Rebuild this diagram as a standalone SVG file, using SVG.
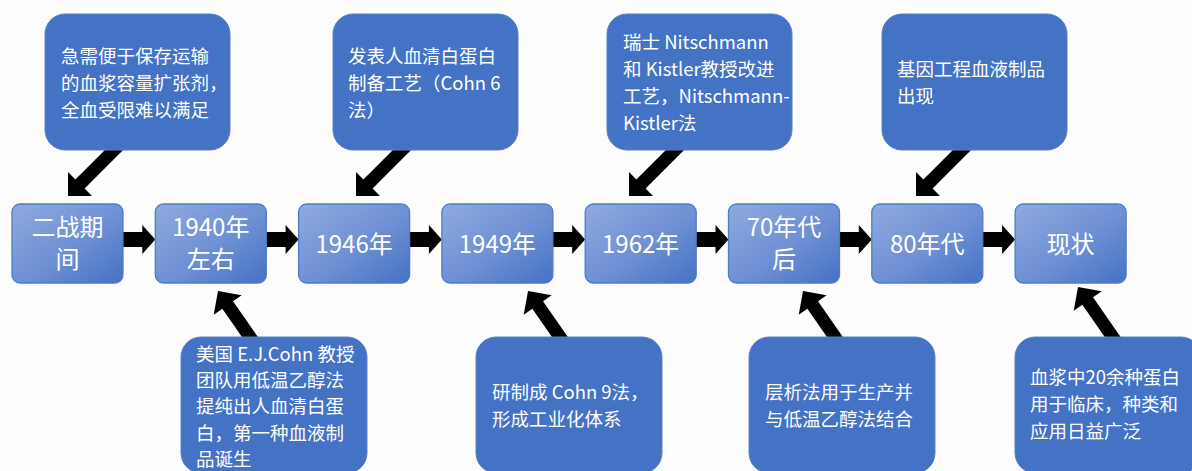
<svg xmlns="http://www.w3.org/2000/svg" xmlns:xlink="http://www.w3.org/1999/xlink" width="1192" height="471" viewBox="0 0 1192 471">
<style>
  .bg { fill: #fdfdfd; }
  .call { fill: #4472C4; stroke: #5b80c8; stroke-width: 1; }
  .step { fill: url(#stepGrad); stroke: #4f7bcb; stroke-width: 1.3; }
  .ct { font-family: "Noto Sans CJK SC", "Noto Sans", sans-serif; font-size: 18.5px; fill: #ffffff; }
  .st { font-family: "Noto Sans CJK SC", "Noto Sans", sans-serif; font-size: 24px; fill: #ffffff; text-anchor: middle; }
  .arr { fill: #000000; }
</style>
<defs>
  <linearGradient id="stepGrad" x1="0" y1="0" x2="1" y2="1">
    <stop offset="0" stop-color="#8FAADF"/>
    <stop offset="0.55" stop-color="#6E8FD4"/>
    <stop offset="1" stop-color="#4472C4"/>
  </linearGradient>
  <path id="arrH" d="M-36,-7.5 L-13,-7.5 L-13,-14.5 L0,0 L-13,14.5 L-13,7.5 L-36,7.5 Z"/>
  <path id="arrDL" d="M51.4,-60.6 L7.4,-16.6 L0,-24 L0,0 L24,0 L16.6,-7.4 L60.6,-51.4 Z"/>
  <path id="arrUL" d="M42.97,50.5 L15.03,10.26 L23.66,4.28 L0,0 L-4.28,23.66 L4.35,17.68 L32.3,57.9 Z"/>
</defs>
<rect class="bg" x="0" y="0" width="1192" height="471"/>

<g id="connectors" class="arr">
  <use xlink:href="#arrH" x="155.3" y="239.5"/>
  <use xlink:href="#arrH" x="298.6" y="239.5"/>
  <use xlink:href="#arrH" x="441.9" y="239.5"/>
  <use xlink:href="#arrH" x="585.2" y="239.5"/>
  <use xlink:href="#arrH" x="728.5" y="239.5"/>
  <use xlink:href="#arrH" x="871.8" y="239.5"/>
  <use xlink:href="#arrH" x="1015.1" y="239.5"/>
  <use xlink:href="#arrDL" x="68" y="196"/>
  <use xlink:href="#arrDL" x="356" y="196"/>
  <use xlink:href="#arrDL" x="629" y="196"/>
  <use xlink:href="#arrDL" x="916" y="196"/>
  <use xlink:href="#arrUL" x="218" y="291"/>
  <use xlink:href="#arrUL" x="528" y="291"/>
  <use xlink:href="#arrUL" x="803" y="291"/>
  <use xlink:href="#arrUL" x="1078" y="287"/>
</g>

<g id="top-1">
  <rect class="call" x="45" y="14" width="185" height="136" rx="20"/>
  <text class="ct"><tspan x="61" y="63">急需便于保存运输</tspan><tspan x="61" y="90">的血浆容量扩张剂，</tspan><tspan x="61" y="117">全血受限难以满足</tspan></text>
</g>
<g id="top-2">
  <rect class="call" x="333" y="14" width="185" height="136" rx="20"/>
  <text class="ct"><tspan x="348" y="63">发表人血清白蛋白</tspan><tspan x="348" y="90">制备工艺（Cohn 6</tspan><tspan x="348" y="117">法）</tspan></text>
</g>
<g id="top-3">
  <rect class="call" x="607" y="14" width="185" height="136" rx="20"/>
  <text class="ct"><tspan x="623" y="49">瑞士 Nitschmann</tspan><tspan x="623" y="76">和 Kistler教授改进</tspan><tspan x="623" y="103">工艺，Nitschmann-</tspan><tspan x="623" y="130">Kistler法</tspan></text>
</g>
<g id="top-4">
  <rect class="call" x="882" y="14" width="185" height="136" rx="20"/>
  <text class="ct"><tspan x="897" y="76">基因工程血液制品</tspan><tspan x="897" y="103">出现</tspan></text>
</g>

<g id="step-1">
  <rect class="step" x="12" y="204" width="111" height="79" rx="8"/>
  <text class="st"><tspan x="67.5" y="236">二战期</tspan><tspan x="67.5" y="268">间</tspan></text>
</g>
<g id="step-2">
  <rect class="step" x="155.3" y="204" width="111" height="79" rx="8"/>
  <text class="st"><tspan x="210.8" y="236">1940年</tspan><tspan x="210.8" y="268">左右</tspan></text>
</g>
<g id="step-3">
  <rect class="step" x="298.6" y="204" width="111" height="79" rx="8"/>
  <text class="st" x="354.1" y="253">1946年</text>
</g>
<g id="step-4">
  <rect class="step" x="441.9" y="204" width="111" height="79" rx="8"/>
  <text class="st" x="497.4" y="253">1949年</text>
</g>
<g id="step-5">
  <rect class="step" x="585.2" y="204" width="111" height="79" rx="8"/>
  <text class="st" x="640.7" y="253">1962年</text>
</g>
<g id="step-6">
  <rect class="step" x="728.5" y="204" width="111" height="79" rx="8"/>
  <text class="st"><tspan x="784" y="236">70年代</tspan><tspan x="784" y="268">后</tspan></text>
</g>
<g id="step-7">
  <rect class="step" x="871.8" y="204" width="111" height="79" rx="8"/>
  <text class="st" x="927.3" y="253">80年代</text>
</g>
<g id="step-8">
  <rect class="step" x="1015.1" y="204" width="111" height="79" rx="8"/>
  <text class="st" x="1070.6" y="253">现状</text>
</g>

<g id="bottom-1">
  <rect class="call" x="181" y="337" width="186" height="136" rx="20"/>
  <text class="ct"><tspan x="196" y="361">美国 E.J.Cohn 教授</tspan><tspan x="196" y="387">团队用低温乙醇法</tspan><tspan x="196" y="413">提纯出人血清白蛋</tspan><tspan x="196" y="440">白，第一种血液制</tspan><tspan x="196" y="466">品诞生</tspan></text>
</g>
<g id="bottom-2">
  <rect class="call" x="476" y="337" width="186" height="136" rx="20"/>
  <text class="ct"><tspan x="492" y="399">研制成 Cohn 9法，</tspan><tspan x="492" y="426">形成工业化体系</tspan></text>
</g>
<g id="bottom-3">
  <rect class="call" x="749" y="337" width="186" height="136" rx="20"/>
  <text class="ct"><tspan x="765" y="399">层析法用于生产并</tspan><tspan x="765" y="426">与低温乙醇法结合</tspan></text>
</g>
<g id="bottom-4">
  <rect class="call" x="1015" y="337" width="186" height="136" rx="20"/>
  <text class="ct"><tspan x="1030" y="384">血浆中20余种蛋白</tspan><tspan x="1030" y="411">用于临床，种类和</tspan><tspan x="1030" y="438">应用日益广泛</tspan></text>
</g>
</svg>
